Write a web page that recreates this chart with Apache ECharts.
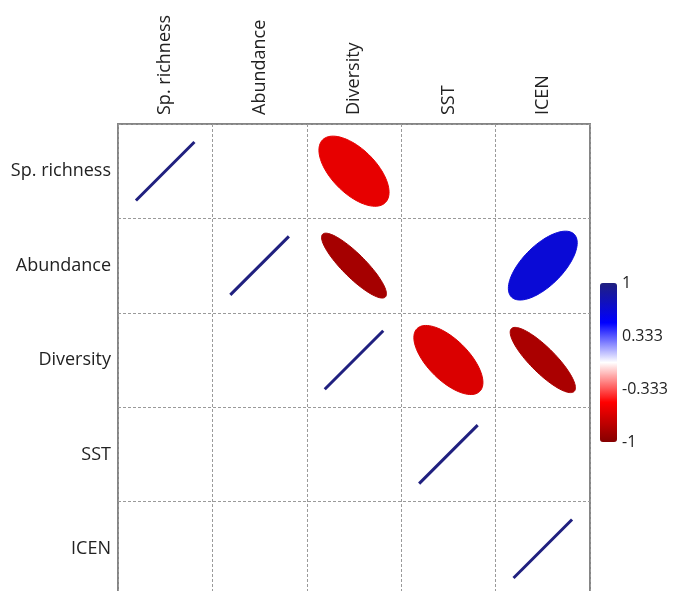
<!DOCTYPE html>
<html>
<head>
<meta charset="utf-8">
<script src="https://cdn.jsdelivr.net/npm/echarts@6/dist/echarts.min.js"></script>
<style>
  html, body { margin: 0; padding: 0; background: #fff; }
  #chart { width: 677px; height: 591px; }
</style>
</head>
<body>
<div id="chart"></div>
<script>
// variables of the correlation matrix
const variables = ["Sp. richness", "Abundance", "Diversity", "SST", "ICEN"];
// shown cells (upper triangle): column index, row index, correlation
const cellCol = [0, 2, 1, 2, 4, 2, 3, 4, 3, 4];
const cellRow = [0, 0, 1, 1, 1, 2, 2, 2, 3, 4];
const cellCorr = [1, -0.6, 1, -0.87, 0.66, 1, -0.65, -0.85, 1, 1];
// colour bar tick labels
const barLabels = ["-1", "-0.333", "0.333", "1"];

const cells = cellCol.map((c, i) => [c, cellRow[i], cellCorr[i]]);

const chart = echarts.init(document.getElementById("chart"));

function renderEllipse(params, api) {
  const c = api.coord([api.value(0), api.value(1)]);
  const size = api.size([1, 1]);
  const r = api.value(2);
  const color = api.visual("color");
  const cell = Math.min(size[0], size[1]);
  // perfect correlation -> a plain line
  if (Math.abs(r) > 0.999) {
    const h = cell * 0.31;
    const s = r > 0 ? -1 : 1;
    return {
      type: "line",
      shape: { x1: c[0] - h, y1: c[1] - s * h, x2: c[0] + h, y2: c[1] + s * h },
      style: { stroke: color, lineWidth: 3 }
    };
  }
  const a = cell * 0.47;
  const b = a * Math.sqrt((1 - Math.abs(r)) / (1 + Math.abs(r)));
  const ang = r > 0 ? -Math.PI / 4 : Math.PI / 4;
  const pts = [];
  for (let k = 0; k < 90; k++) {
    const t = (k / 90) * Math.PI * 2;
    const ex = a * Math.cos(t);
    const ey = b * Math.sin(t);
    pts.push([
      c[0] + ex * Math.cos(ang) - ey * Math.sin(ang),
      c[1] + ex * Math.sin(ang) + ey * Math.cos(ang)
    ]);
  }
  return {
    type: "polygon",
    shape: { points: pts },
    style: { fill: color, stroke: color, lineWidth: 1 }
  };
}

const labelFont = { fontFamily: "Open Sans", fontSize: 18, color: "#222" };

const option = {
  backgroundColor: "#fff",
  animation: false,
  grid: [
    {
      left: 118, top: 124, width: 472, height: 472,
      outerBoundsMode: "none",
      show: true, borderColor: "#858585", borderWidth: 2
    },
    { left: 600, top: 283, width: 17, height: 159, outerBoundsMode: "none" }
  ],
  xAxis: [
    {
      type: "category",
      data: variables,
      position: "top",
      gridIndex: 0,
      axisLine: { show: false },
      axisTick: { show: false },
      axisLabel: Object.assign({ rotate: -90, margin: 9, interval: 0 }, labelFont),
      splitLine: { show: true, lineStyle: { color: "#9a9a9a", type: [3, 2], width: 1 } }
    },
    { type: "value", gridIndex: 1, show: false }
  ],
  yAxis: [
    {
      type: "category",
      data: variables,
      inverse: true,
      gridIndex: 0,
      axisLine: { show: false },
      axisTick: { show: false },
      axisLabel: Object.assign({ margin: 7, interval: 0, padding: [16, 0, 0, 0] }, labelFont),
      splitLine: { show: true, lineStyle: { color: "#9a9a9a", type: [3, 2], width: 1 } }
    },
    {
      type: "category",
      data: barLabels,
      gridIndex: 1,
      position: "right",
      boundaryGap: false,
      axisLine: { show: false },
      axisTick: { show: false },
      splitLine: { show: false },
      axisLabel: { margin: 5, interval: 0, fontFamily: "Open Sans", fontSize: 16, color: "#222" }
    }
  ],
  visualMap: {
    type: "continuous",
    min: -1,
    max: 1,
    dimension: 2,
    seriesIndex: 0,
    calculable: false,
    orient: "vertical",
    left: 600,
    top: 283,
    padding: 0,
    itemWidth: 17,
    itemHeight: 159,
    text: null,
    inRange: { color: ["#850000", "#ff0000", "#ffffff", "#0000ff", "#20207f"] }
  },
  series: [
    {
      type: "custom",
      xAxisIndex: 0,
      yAxisIndex: 0,
      renderItem: renderEllipse,
      data: cells
    }
  ]
};

chart.setOption(option);
</script>
</body>
</html>
